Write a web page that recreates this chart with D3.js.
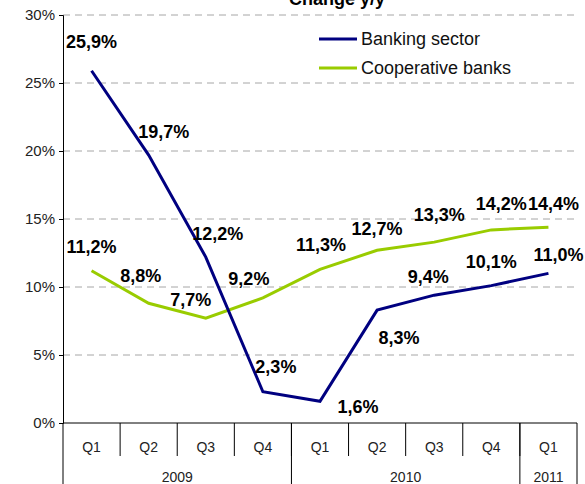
<!DOCTYPE html>
<html lang="en">
<head>
<meta charset="UTF-8">
<title>Change y/y</title>
<style>
  body { margin: 0; background: #fff; }
  svg { display: block; font-family: "Liberation Sans", Arial, sans-serif; }
</style>
</head>
<body>
<div id="chart"></div>
<script src="https://cdn.jsdelivr.net/npm/d3@7"></script>
<script>
// data
var quarters = ['Q1', 'Q2', 'Q3', 'Q4', 'Q1', 'Q2', 'Q3', 'Q4', 'Q1'];
var years = ['2009', '2010', '2011'];
var yearSpan = [4, 4, 1];
var banking = [25.9, 19.7, 12.2, 2.3, 1.6, 8.3, 9.4, 10.1, 11.0];
var cooperative = [11.2, 8.8, 7.7, 9.2, 11.3, 12.7, 13.3, 14.2, 14.4];
var yTicks = [0, 5, 10, 15, 20, 25, 30];

// label nudges (dx, dy from point to text baseline), as placed in the original
var bankLabelPos = [[0,-23],[15,-17],[12,-17],[13,-19],[38,12],[22,34],[-6,-12],[0,-18],[10,-12]];
var coopLabelPos = [[0,-18],[-8,-21],[-15,-12],[-14,-13],[1,-18],[0,-15],[5,-21],[10,-20],[5,-17]];

var width = 585, height = 484;
var margin = {t: 15, l: 63, r: 8, b: 61};
var plotW = width - margin.l - margin.r, plotH = height - margin.t - margin.b;

var svg = d3.select('#chart').append('svg').attr('width', width).attr('height', height);
var g = svg.append('g').attr('transform', 'translate(' + margin.l + ',' + margin.t + ')');

var x = d3.scaleBand().domain(d3.range(quarters.length)).range([0, plotW]);
var y = d3.scaleLinear().domain([0, 30]).range([plotH, 0]);

// gridlines
g.selectAll('.grid').data(yTicks.filter(function(d) { return d > 0; })).enter()
  .append('line')
  .attr('x1', 0).attr('x2', plotW)
  .attr('y1', function(d) { return y(d); }).attr('y2', function(d) { return y(d); })
  .attr('stroke', '#a6a6a6').attr('stroke-width', 1).attr('stroke-dasharray', '7,5');

// y axis
var yAxis = g.append('g').call(d3.axisLeft(y).tickValues(yTicks).tickSize(4).tickPadding(4)
  .tickFormat(function(d) { return d + '%'; }));
yAxis.select('.domain').attr('stroke', '#000');
yAxis.selectAll('text').attr('font-size', 15).attr('fill', '#222').attr('font-family', '"Liberation Sans", Arial, sans-serif');

// x axis: quarter row + year row
var ax = g.append('g').attr('transform', 'translate(0,' + plotH + ')');
ax.append('line').attr('x1', 0).attr('x2', plotW).attr('stroke', '#000');
ax.selectAll('.qt').data(d3.range(1, quarters.length)).enter().append('line')
  .attr('x1', function(i) { return x(i); }).attr('x2', function(i) { return x(i); })
  .attr('y1', 0).attr('y2', 33).attr('stroke', '#000');
ax.selectAll('.ql').data(quarters).enter().append('text')
  .attr('x', function(d, i) { return x(i) + x.bandwidth() / 2; })
  .attr('y', 29).attr('text-anchor', 'middle').attr('font-size', 14).attr('fill', '#222')
  .text(function(d) { return d; });

var starts = [0];
yearSpan.forEach(function(s, i) { starts.push(starts[i] + s); });
var bounds = starts.map(function(s) { return s < quarters.length ? x(s) : plotW; });
ax.selectAll('.ysep').data(bounds).enter().append('line')
  .attr('x1', function(d) { return d; }).attr('x2', function(d) { return d; })
  .attr('y1', 0).attr('y2', margin.b).attr('stroke', '#000');
ax.selectAll('.yl').data(years).enter().append('text')
  .attr('x', function(d, i) { return (bounds[i] + bounds[i + 1]) / 2; })
  .attr('y', 59).attr('text-anchor', 'middle').attr('font-size', 14).attr('fill', '#222')
  .text(function(d) { return d; });

// lines
var line = d3.line()
  .x(function(d, i) { return x(i) + x.bandwidth() / 2; })
  .y(function(d) { return y(d); });

var series = [
  {name: 'Banking sector', values: banking, color: '#000080', pos: bankLabelPos},
  {name: 'Cooperative banks', values: cooperative, color: '#99cc00', pos: coopLabelPos}
];

series.slice().reverse().forEach(function(s) {
  g.append('path').datum(s.values).attr('d', line)
    .attr('fill', 'none').attr('stroke', s.color).attr('stroke-width', 3)
    .attr('stroke-linejoin', 'miter');
});

series.forEach(function(s) {
  g.selectAll(null).data(s.values).enter().append('text')
    .attr('x', function(d, i) { return x(i) + x.bandwidth() / 2 + s.pos[i][0]; })
    .attr('y', function(d, i) { return y(d) + s.pos[i][1]; })
    .attr('text-anchor', 'middle').attr('font-size', 18).attr('font-weight', 'bold').attr('fill', '#000')
    .text(function(d) { return d.toFixed(1).replace('.', ',') + '%'; });
});

// title (cut off at top, as in the original)
svg.append('text').attr('x', 337).attr('y', 5).attr('text-anchor', 'middle')
  .attr('font-size', 18).attr('font-weight', 'bold').text('Change y/y');

// legend
var leg = svg.append('g').attr('transform', 'translate(319,39)');
series.forEach(function(s, i) {
  var r = leg.append('g').attr('transform', 'translate(0,' + (i * 29) + ')');
  r.append('line').attr('x1', 0).attr('x2', 38).attr('stroke', s.color).attr('stroke-width', 3);
  r.append('text').attr('x', 42).attr('y', 6).attr('font-size', 18).attr('fill', '#111').text(s.name);
});
</script>
</body>
</html>
